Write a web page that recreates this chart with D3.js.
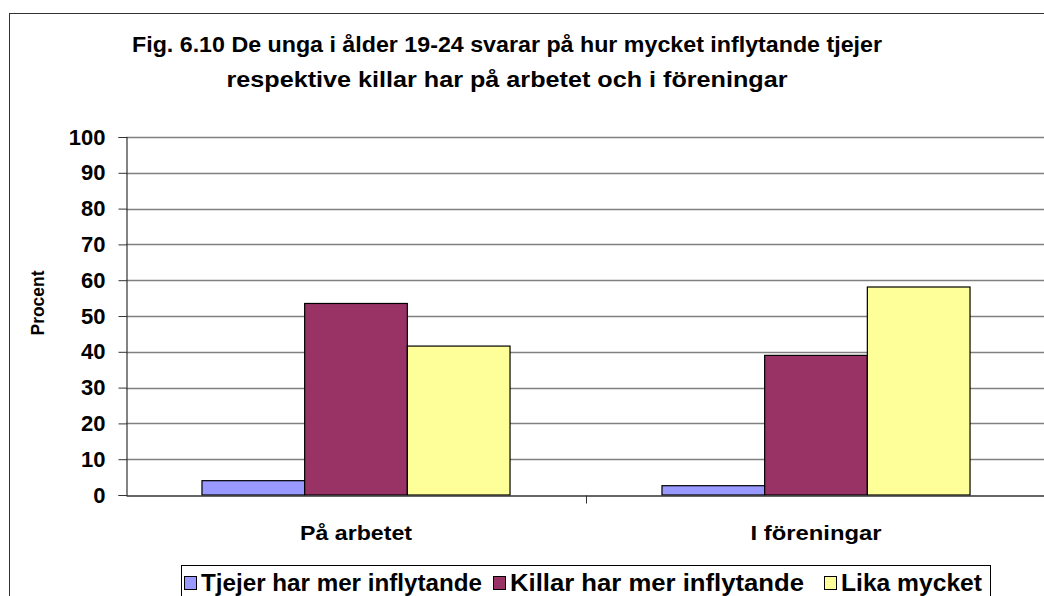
<!DOCTYPE html>
<html>
<head>
<meta charset="utf-8">
<script src="https://cdn.jsdelivr.net/npm/d3@7"></script>
<style>
  body { margin: 0; background: #fff; }
  text { font-family: "Liberation Sans", Arial, sans-serif; font-weight: bold; fill: #000; }
</style>
</head>
<body>
<script>
(function(){

  //pseudo-global variables
  var categories = ["På arbetet", "I föreningar"]; //x axis categories
  var seriesNames = ["Tjejer har mer inflytande", "Killar har mer inflytande", "Lika mycket"]; //legend entries
  var tjejer = [4.0, 2.6]; //percent per category
  var killar = [53.5, 39.0];
  var lika = [41.6, 58.1];
  var yTicks = [0, 10, 20, 30, 40, 50, 60, 70, 80, 90, 100];
  var titleLines = ["Fig. 6.10 De unga i ålder 19-24 svarar på hur mycket inflytande tjejer",
                    "respektive killar har på arbetet och i föreningar"];
  var colors = ["#9999FF", "#993366", "#FFFF99"];

  window.onload = setChart(); //begin script when window loads

  function setChart(){
    var width = 1044,
        height = 596;

    var svg = d3.select("body")
      .append("svg")
      .attr("width", width)
      .attr("height", height);

    //outer chart border (cut off at right and bottom)
    svg.append("rect")
      .attr("x", 9.5).attr("y", 13.5)
      .attr("width", 1100).attr("height", 700)
      .attr("fill", "#fff")
      .attr("stroke", "#333")
      .attr("stroke-width", 1);

    //title
    svg.selectAll(".title")
      .data(titleLines)
      .enter()
      .append("text")
      .attr("class", "title")
      .attr("x", 507)
      .attr("y", function(d, i){ return 52 + i * 35; })
      .attr("text-anchor", "middle")
      .attr("font-size", "22px")
      .attr("textLength", function(d, i){ return i == 0 ? 750 : 561; })
      .attr("lengthAdjust", "spacingAndGlyphs")
      .text(function(d){ return d; });

    var x0 = d3.scaleBand() //category scale
      .domain(categories)
      .range([126, 1046]);

    var x1 = d3.scaleBand() //series scale inside category
      .domain(seriesNames)
      .range([0, x0.bandwidth()])
      .paddingOuter(0.74);

    var y = d3.scaleLinear()
      .domain([0, 100])
      .range([495, 137]);

    //gridlines
    svg.selectAll(".grid")
      .data(yTicks.slice(1))
      .enter()
      .append("line")
      .attr("class", "grid")
      .attr("x1", 126).attr("x2", width)
      .attr("y1", function(d){ return Math.round(y(d)) + 0.5; })
      .attr("y2", function(d){ return Math.round(y(d)) + 0.5; })
      .attr("stroke", "#808080")
      .attr("stroke-width", 1.3);

    //bars
    var table = categories.map(function(c, i){
      return [tjejer[i], killar[i], lika[i]];
    });

    var groups = svg.selectAll(".group")
      .data(table)
      .enter()
      .append("g")
      .attr("transform", function(d, i){ return "translate(" + x0(categories[i]) + ",0)"; });

    groups.selectAll("rect")
      .data(function(d){ return d; })
      .enter()
      .append("rect")
      .attr("x", function(d, i){ return x1(seriesNames[i]); })
      .attr("y", function(d){ return y(d); })
      .attr("width", x1.bandwidth())
      .attr("height", function(d){ return y(0) - y(d); })
      .attr("fill", function(d, i){ return colors[i]; })
      .attr("stroke", "#000")
      .attr("stroke-width", 1.2);

    //y axis
    var yAxis = svg.append("g")
      .attr("transform", "translate(126.5,0)")
      .call(d3.axisLeft(y).tickValues(yTicks).tickSize(8).tickPadding(13));
    yAxis.select(".domain").attr("stroke", "#333").attr("stroke-width", 1.2);
    yAxis.selectAll(".tick line").attr("stroke", "#333");
    yAxis.selectAll(".tick text")
      .attr("font-size", "22px")
      .attr("font-family", "Liberation Sans, Arial, sans-serif")
      .attr("font-weight", "bold")
      .attr("fill", "#000");

    //x axis
    var xAxis = svg.append("g")
      .attr("transform", "translate(0,495.5)")
      .call(d3.axisBottom(x0).tickSize(0).tickPadding(0).tickFormat(""));
    xAxis.select(".domain").attr("stroke", "#333").attr("stroke-width", 1.5);
    xAxis.append("line") //category separator tick
      .attr("x1", x0(categories[1]) + 0.5).attr("x2", x0(categories[1]) + 0.5)
      .attr("y1", 0).attr("y2", 8)
      .attr("stroke", "#333");

    var catW = [112, 131];
    svg.selectAll(".cat")
      .data(categories)
      .enter()
      .append("text")
      .attr("class", "cat")
      .attr("x", function(d){ return x0(d) + x0.bandwidth() / 2; })
      .attr("y", 540)
      .attr("text-anchor", "middle")
      .attr("font-size", "21px")
      .attr("textLength", function(d, i){ return catW[i]; })
      .attr("lengthAdjust", "spacingAndGlyphs")
      .text(function(d){ return d; });

    //y axis title
    svg.append("text")
      .attr("transform", "translate(44,303) rotate(-90)")
      .attr("text-anchor", "middle")
      .attr("font-size", "18px")
      .attr("textLength", 65)
      .attr("lengthAdjust", "spacingAndGlyphs")
      .text("Procent");

    //legend
    var legend = svg.append("g");
    legend.append("rect")
      .attr("x", 181.5).attr("y", 565.5)
      .attr("width", 809).attr("height", 60)
      .attr("fill", "#fff")
      .attr("stroke", "#000");

    var legendX = [184, 493, 824];
    var legendW = [281, 294, 141];
    seriesNames.forEach(function(s, i){
      legend.append("rect")
        .attr("x", legendX[i] + 0.5).attr("y", 576.5)
        .attr("width", 12).attr("height", 13)
        .attr("fill", colors[i])
        .attr("stroke", "#000");
      legend.append("text")
        .attr("x", legendX[i] + 17)
        .attr("y", 591)
        .attr("font-size", "24px")
        .attr("textLength", legendW[i])
        .attr("lengthAdjust", "spacingAndGlyphs")
        .text(s);
    });
  };
})();
</script>
</body>
</html>
